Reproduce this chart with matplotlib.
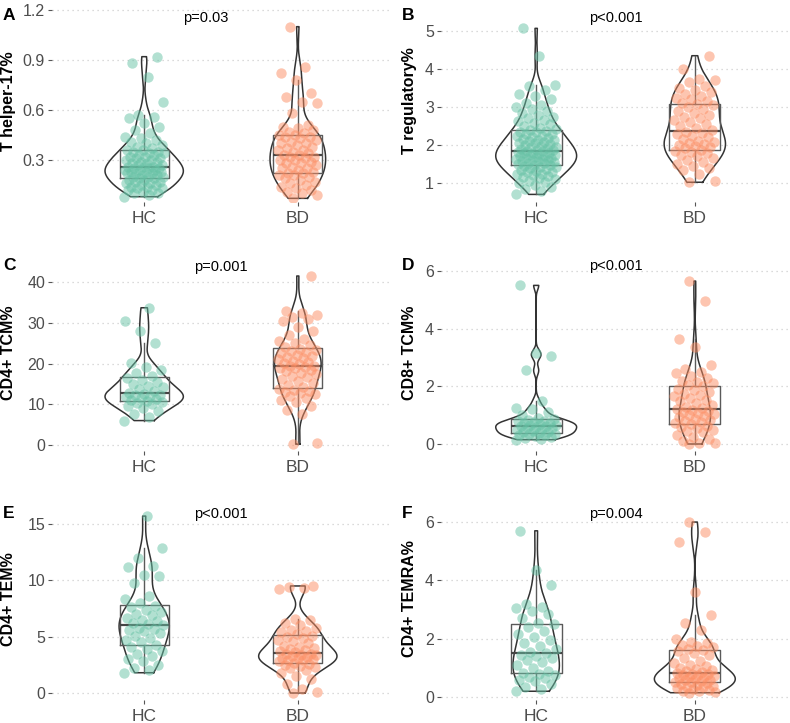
import numpy as np
import matplotlib.pyplot as plt

plt.rcParams['font.family'] = ['Liberation Sans', 'DejaVu Sans']

groups = ['HC', 'BD']

# values (approximate), one list per group
th17_hc = [0.08, 0.09, 0.10, 0.10, 0.11, 0.12, 0.12, 0.13, 0.13, 0.14, 0.14, 0.15, 0.15, 0.16, 0.16, 0.17, 0.17, 0.18, 0.18, 0.19,
           0.19, 0.20, 0.20, 0.20, 0.21, 0.21, 0.22, 0.22, 0.22, 0.23, 0.23, 0.23, 0.24, 0.24, 0.24, 0.25, 0.25, 0.25, 0.26, 0.26,
           0.26, 0.27, 0.27, 0.28, 0.28, 0.29, 0.29, 0.30, 0.30, 0.31, 0.31, 0.32, 0.32, 0.33, 0.33, 0.34, 0.34, 0.35, 0.35, 0.36,
           0.36, 0.37, 0.38, 0.39, 0.40, 0.41, 0.42, 0.43, 0.44, 0.46, 0.48, 0.50, 0.52, 0.55, 0.56, 0.57, 0.65, 0.80, 0.88, 0.92]
th17_bd = [0.07, 0.09, 0.10, 0.11, 0.12, 0.13, 0.14, 0.15, 0.16, 0.17, 0.18, 0.19, 0.20, 0.21, 0.21, 0.22,
           0.22, 0.23, 0.24, 0.25, 0.25, 0.26, 0.27, 0.28, 0.28, 0.29, 0.30, 0.30, 0.31, 0.32, 0.32, 0.33,
           0.33, 0.34, 0.35, 0.36, 0.36, 0.37, 0.38, 0.39, 0.40, 0.40, 0.41, 0.42, 0.43, 0.44, 0.44, 0.45,
           0.45, 0.46, 0.47, 0.48, 0.49, 0.50, 0.51, 0.58, 0.64, 0.65, 0.68, 0.70, 0.78, 0.82, 0.86, 1.10]

treg_hc = [0.70, 0.78, 0.85, 0.90, 0.95, 1.00, 1.03, 1.06, 1.10, 1.12, 1.15, 1.18, 1.20, 1.23, 1.25, 1.28, 1.30, 1.32, 1.35, 1.37, 1.39, 1.41, 1.43, 1.45, 1.47,
           1.48, 1.50, 1.52, 1.53, 1.55, 1.57, 1.58, 1.60, 1.61, 1.63, 1.64, 1.66, 1.67, 1.69, 1.70, 1.72, 1.73, 1.75, 1.76, 1.78, 1.79, 1.80, 1.82, 1.83, 1.85,
           1.86, 1.88, 1.90, 1.92, 1.94, 1.96, 1.98, 2.00, 2.02, 2.04, 2.06, 2.08, 2.10, 2.12, 2.14, 2.16, 2.18, 2.20, 2.23, 2.25, 2.28, 2.30, 2.33, 2.35, 2.38,
           2.40, 2.43, 2.46, 2.50, 2.54, 2.58, 2.62, 2.66, 2.70, 2.75, 2.80, 2.85, 2.90, 2.95, 3.00, 3.05, 3.10, 3.20, 3.30, 3.35, 3.45, 3.55, 3.58, 4.35, 5.07]
treg_bd = [1.02, 1.05, 1.25, 1.35, 1.40, 1.45, 1.50, 1.55, 1.60, 1.65, 1.70, 1.75, 1.78, 1.82, 1.85,
           1.88, 1.92, 1.95, 1.98, 2.00, 2.03, 2.05, 2.08, 2.10, 2.15, 2.20, 2.24, 2.28, 2.32, 2.35,
           2.40, 2.45, 2.50, 2.55, 2.60, 2.65, 2.70, 2.75, 2.80, 2.85, 2.90, 2.95, 3.00, 3.04, 3.07,
           3.10, 3.15, 3.20, 3.25, 3.30, 3.35, 3.40, 3.45, 3.50, 3.55, 3.65, 3.70, 3.75, 4.00, 4.35]

cd4tcm_hc = [6.0, 7.0, 7.5, 8.3, 9.0, 9.5, 10.0, 10.3, 10.5,
             10.8, 11.0, 11.3, 11.6, 11.9, 12.1, 12.3, 12.4, 12.5,
             12.8, 13.2, 13.7, 14.2, 14.6, 15.0, 15.5, 16.0, 16.5,
             17.0, 17.8, 18.5, 19.2, 20.2, 25.0, 28.0, 30.5, 33.7]
cd4tcm_bd = [0.2, 0.4, 7.5, 8.5, 9.5, 10.5, 11.0, 11.5, 12.0, 12.5, 12.8, 13.0, 13.3, 13.6, 13.8,
             14.2, 14.8, 15.3, 15.8, 16.2, 16.6, 17.0, 17.4, 17.8, 18.2, 18.5, 18.8, 19.0, 19.2, 19.3,
             19.5, 19.8, 20.1, 20.4, 20.7, 21.0, 21.3, 21.6, 21.9, 22.2, 22.5, 22.8, 23.1, 23.4, 23.6,
             24.0, 24.5, 25.0, 25.5, 26.0, 27.0, 28.0, 29.0, 30.5, 31.0, 31.5, 32.0, 32.5, 33.0, 41.5]

cd8tcm_hc = [0.15, 0.18, 0.22, 0.25, 0.28, 0.30, 0.32, 0.34, 0.36, 0.38,
             0.40, 0.43, 0.46, 0.49, 0.52, 0.55, 0.57, 0.59, 0.61, 0.63,
             0.65, 0.67, 0.70, 0.72, 0.74, 0.76, 0.78, 0.80, 0.83, 0.86,
             0.90, 1.00, 1.10, 1.20, 1.25, 1.50, 2.55, 3.05, 3.15, 5.50]
cd8tcm_bd = [0.00, 0.02, 0.05, 0.10, 0.18, 0.25, 0.32, 0.40, 0.45, 0.50, 0.55, 0.60, 0.64, 0.68,
             0.72, 0.76, 0.80, 0.84, 0.88, 0.92, 0.96, 1.00, 1.04, 1.08, 1.12, 1.15, 1.18, 1.20,
             1.24, 1.30, 1.36, 1.42, 1.48, 1.54, 1.60, 1.65, 1.70, 1.75, 1.80, 1.86, 1.92, 2.00,
             2.05, 2.10, 2.15, 2.20, 2.30, 2.35, 2.45, 2.50, 2.60, 2.75, 3.35, 3.65, 4.95, 5.65]

cd4tem_hc = [1.8, 2.0, 2.2, 2.5, 2.8, 3.0, 3.3, 3.5, 3.7, 3.9, 4.1,
             4.3, 4.5, 4.7, 4.9, 5.1, 5.3, 5.5, 5.6, 5.7, 5.8, 6.0,
             6.1, 6.2, 6.4, 6.5, 6.7, 6.9, 7.0, 7.2, 7.4, 7.6, 7.7,
             8.0, 8.3, 8.6, 9.8, 10.4, 10.5, 11.2, 11.3, 12.0, 12.9, 15.7]
cd4tem_bd = [0.0, 0.1, 0.4, 0.8, 1.2, 1.5, 1.8, 2.0, 2.2, 2.3, 2.4, 2.5, 2.6,
             2.7, 2.8, 2.9, 2.95, 3.0, 3.1, 3.15, 3.2, 3.3, 3.35, 3.4, 3.45, 3.5,
             3.6, 3.7, 3.8, 3.9, 4.0, 4.1, 4.2, 4.4, 4.6, 4.7, 4.9, 5.0, 5.1,
             5.2, 5.4, 5.5, 5.6, 5.8, 6.0, 6.2, 6.5, 6.6, 9.2, 9.3, 9.4, 9.5]

cd4temra_hc = [0.20, 0.28, 0.35, 0.45, 0.55, 0.60, 0.65, 0.70, 0.75, 0.78,
               0.82, 0.90, 1.00, 1.10, 1.20, 1.28, 1.35, 1.40, 1.45, 1.50,
               1.55, 1.65, 1.75, 1.85, 1.95, 2.05, 2.15, 2.25, 2.40, 2.50,
               2.55, 2.70, 2.85, 2.95, 3.05, 3.10, 3.20, 3.85, 4.35, 5.70]
cd4temra_bd = [0.15, 0.18, 0.20, 0.22, 0.25, 0.28, 0.30, 0.33, 0.36, 0.39, 0.42, 0.45, 0.48, 0.50,
               0.52, 0.55, 0.58, 0.60, 0.62, 0.65, 0.68, 0.70, 0.72, 0.74, 0.76, 0.78, 0.80, 0.82,
               0.85, 0.88, 0.92, 0.96, 1.00, 1.05, 1.10, 1.18, 1.25, 1.35, 1.45, 1.52, 1.58, 1.62,
               1.65, 1.70, 1.75, 1.80, 1.85, 1.90, 2.00, 2.30, 2.55, 2.80, 3.60, 5.30, 5.65, 6.00]

panel_letters = ['A', 'B', 'C', 'D', 'E', 'F']
y_labels = ['T helper-17%', 'T regulatory%', 'CD4+ TCM%', 'CD8+ TCM%', 'CD4+ TEM%', 'CD4+ TEMRA%']
p_texts = ['p=0.03', 'p<0.001', 'p=0.001', 'p<0.001', 'p<0.001', 'p=0.004']
y_ticks = [[0.3, 0.6, 0.9, 1.2], [1, 2, 3, 4, 5], [0, 10, 20, 30, 40], [0, 2, 4, 6], [0, 5, 10, 15], [0, 2, 4, 6]]
y_ticklabels = [['0.3', '0.6', '0.9', '1.2'], ['1', '2', '3', '4', '5'], ['0', '10', '20', '30', '40'],
                ['0', '2', '4', '6'], ['0', '5', '10', '15'], ['0', '2', '4', '6']]
data = [(th17_hc, th17_bd), (treg_hc, treg_bd), (cd4tcm_hc, cd4tcm_bd),
        (cd8tcm_hc, cd8tcm_bd), (cd4tem_hc, cd4tem_bd), (cd4temra_hc, cd4temra_bd)]

# layout (pixels) and y limits
W, H = 790, 723
cols = [(52, 390), (441, 790)]
rows = [(0, 202), (243, 451), (485, 700)]
y_lims = [(0.048, 1.26), (0.5, 5.816), (-1.47, 49.6), (-0.243, 6.97), (-0.62, 18.46), (-0.10, 7.27)]
p_pos = [(1.40, 1.152), (1.5, 5.34), (1.5, 43.7), (1.5, 6.17), (1.5, 15.9), (1.5, 6.27)]

colors = ['#66C2A5', '#FC8D62']


def kde_nrd0(v, n=512):
    v = np.asarray(v, float)
    sd = v.std(ddof=1)
    iqr = np.subtract(*np.percentile(v, [75, 25]))
    bw = 0.9 * min(sd, iqr / 1.34) * len(v) ** -0.2
    grid = np.linspace(v.min(), v.max(), n)
    dens = np.exp(-0.5 * ((grid[:, None] - v[None, :]) / bw) ** 2).sum(1) / (len(v) * bw * np.sqrt(2 * np.pi))
    return grid, dens


fig = plt.figure(figsize=(W / 100, H / 100), dpi=100)

for k in range(6):
    c0, c1 = cols[k % 2]
    r0, r1 = rows[k // 2]
    ax = fig.add_axes([c0 / W, 1 - r1 / H, (c1 - c0) / W, (r1 - r0) / H])
    hc, bd = data[k]

    # violins, scaled by area across the panel
    kd = [kde_nrd0(hc), kde_nrd0(bd)]
    dmax = max(d.max() for _, d in kd)
    for i, (g, d) in enumerate(kd):
        pos = i + 1
        half = d / dmax * 0.51 / 2
        xs = np.concatenate([pos + half, (pos - half)[::-1], [pos + half[0]]])
        ys = np.concatenate([g, g[::-1], [g[0]]])
        ax.plot(xs, ys, color='#333333', lw=1.1, zorder=3)

    ax.boxplot([hc, bd], positions=[1, 2], widths=0.32, whis=1.5, showfliers=False, showcaps=False,
               boxprops=dict(color='#5a5a5a', lw=1.0), whiskerprops=dict(color='#5a5a5a', lw=1.0),
               medianprops=dict(color='#444444', lw=1.6), zorder=4)

    for i, vals in enumerate([hc, bd]):
        idx = np.arange(len(vals))
        jit = ((idx * 0.618034 + 0.37 * i) % 1 - 0.5) * 2 * 0.13
        ax.scatter(i + 1 + jit, vals, s=56, color=colors[i], alpha=0.5, linewidths=0, zorder=5)

    ax.set_xlim(0.4, 2.6)
    ax.set_ylim(*y_lims[k])
    ax.set_xticks([1, 2])
    ax.set_xticklabels(groups, fontsize=12.5)
    ax.set_yticks(y_ticks[k])
    ax.set_yticklabels(y_ticklabels[k])
    ax.tick_params(axis='both', length=3, width=0.8, color='#555555', labelcolor='#4D4D4D', labelsize=11.5, pad=2)
    ax.tick_params(axis='x', pad=3.5, labelsize=12.5)
    for s in ax.spines.values():
        s.set_visible(False)
    ax.yaxis.grid(True, linestyle=(0, (1, 3)), color='#CFCFCF', lw=0.9)
    ax.set_axisbelow(True)

    ax.set_ylabel(y_labels[k], fontsize=11.5, fontweight='bold', color='black')
    lab_x = (16 - c0) / (c1 - c0) if k % 2 == 0 else (417 - c0) / (c1 - c0)
    ax.yaxis.set_label_coords(lab_x, 0.5 if k < 2 else 0.47)
    ax.text(p_pos[k][0], p_pos[k][1], p_texts[k], ha='center', va='center', fontsize=10.5, color='black')

    lx = 3 if k % 2 == 0 else 402
    ly = [16, 265, 513][k // 2]
    fig.text(lx / W, 1 - ly / H, panel_letters[k], fontsize=12.5, fontweight='bold', ha='left', va='center')

fig.savefig('out.png', dpi=100, facecolor='white')
